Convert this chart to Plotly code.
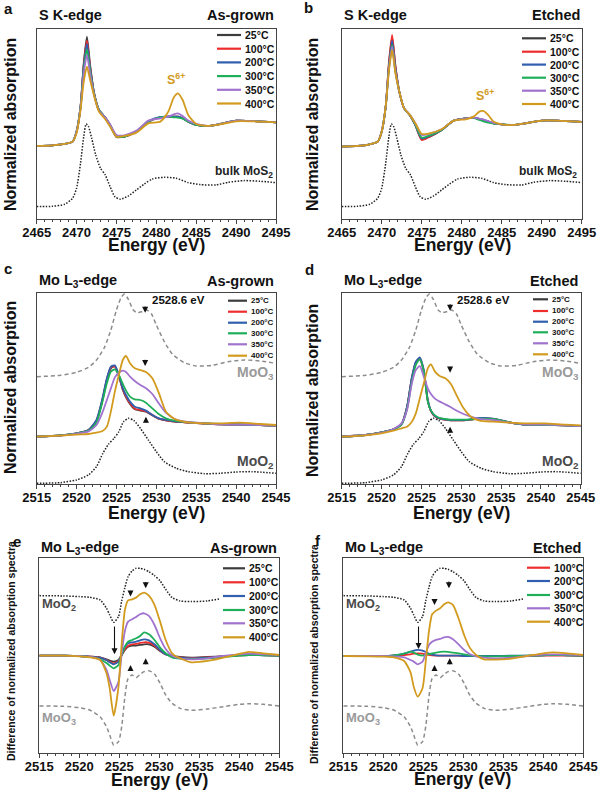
import plotly.graph_objects as go

FONT = "Liberation Sans, Arial, sans-serif"
TEMPS = ["25°C", "100°C", "200°C", "300°C", "350°C", "400°C"]
COLORS = ["#3d3d3d", "#ee2d2d", "#2f5fae", "#1faf58", "#a173cf", "#d29b1e"]

# ---- S K-edge (panels a, b) ----
S_EV = [2465, 2467, 2468.5, 2469.5, 2470, 2470.5, 2470.9, 2471.3, 2471.7, 2472.2, 2472.8, 2473.5,
        2474.2, 2475, 2476, 2477.5, 2479, 2480.5, 2481.5, 2482.2, 2482.7, 2483.3, 2484, 2485,
        2486.5, 2488, 2490, 2492, 2495]
A_25 = [2.20, 2.22, 2.26, 2.33, 2.63, 3.38, 4.68, 5.48, 4.63, 3.78, 3.28, 3.08, 2.83, 2.48, 2.48, 2.63,
        2.93, 3.06, 3.08, 3.08, 3.08, 3.03, 2.93, 2.83, 2.80, 2.86, 2.96, 2.95, 2.91]
A_100 = [2.20, 2.22, 2.26, 2.33, 2.63, 3.38, 4.63, 5.36, 4.58, 3.78, 3.28, 3.08, 2.83, 2.47, 2.48, 2.63,
         2.93, 3.06, 3.08, 3.08, 3.08, 3.03, 2.93, 2.83, 2.80, 2.86, 2.96, 2.95, 2.91]
A_200 = [2.20, 2.22, 2.26, 2.33, 2.63, 3.38, 4.58, 5.26, 4.53, 3.78, 3.28, 3.08, 2.83, 2.48, 2.48, 2.63,
         2.94, 3.07, 3.08, 3.08, 3.08, 3.03, 2.93, 2.83, 2.80, 2.86, 2.96, 2.95, 2.91]
A_300 = [2.20, 2.22, 2.26, 2.33, 2.63, 3.36, 4.48, 5.10, 4.46, 3.76, 3.28, 3.08, 2.83, 2.48, 2.48, 2.63,
         2.93, 3.06, 3.08, 3.06, 3.05, 3.02, 2.93, 2.83, 2.80, 2.86, 2.96, 2.95, 2.91]
A_350 = [2.20, 2.22, 2.26, 2.33, 2.63, 3.33, 4.38, 4.93, 4.36, 3.73, 3.26, 3.08, 2.85, 2.53, 2.52, 2.66,
         2.96, 3.03, 3.08, 3.15, 3.18, 3.10, 2.96, 2.86, 2.80, 2.86, 2.96, 2.95, 2.91]
A_400 = [2.20, 2.22, 2.26, 2.33, 2.58, 3.28, 4.13, 4.58, 4.18, 3.70, 3.23, 3.03, 2.78, 2.48, 2.50, 2.60,
         2.88, 2.93, 3.23, 3.66, 3.78, 3.58, 3.13, 2.86, 2.80, 2.85, 2.94, 2.94, 2.91]

B_25 = [2.18, 2.20, 2.25, 2.33, 2.63, 3.38, 4.65, 5.46, 4.60, 3.83, 3.33, 3.13, 2.83, 2.40, 2.48, 2.68,
        2.96, 3.03, 3.05, 3.01, 2.98, 2.93, 2.88, 2.85, 2.83, 2.88, 2.96, 2.96, 2.92]
B_100 = [2.18, 2.20, 2.25, 2.33, 2.63, 3.38, 4.70, 5.53, 4.65, 3.83, 3.33, 3.13, 2.83, 2.38, 2.48, 2.68,
         2.96, 3.03, 3.05, 3.01, 2.98, 2.93, 2.88, 2.85, 2.83, 2.88, 2.96, 2.96, 2.92]
B_200 = [2.18, 2.20, 2.25, 2.33, 2.63, 3.38, 4.60, 5.36, 4.55, 3.83, 3.33, 3.13, 2.83, 2.42, 2.50, 2.68,
         2.96, 3.03, 3.05, 3.01, 2.98, 2.93, 2.88, 2.85, 2.83, 2.88, 2.96, 2.96, 2.92]
B_300 = [2.18, 2.20, 2.25, 2.33, 2.63, 3.38, 4.52, 5.23, 4.48, 3.83, 3.33, 3.13, 2.84, 2.45, 2.52, 2.68,
         2.96, 3.03, 3.04, 2.98, 2.94, 2.90, 2.87, 2.85, 2.83, 2.88, 2.96, 2.96, 2.92]
B_350 = [2.18, 2.20, 2.25, 2.33, 2.63, 3.38, 4.50, 5.18, 4.45, 3.83, 3.33, 3.14, 2.88, 2.53, 2.57, 2.70,
         2.96, 3.03, 3.05, 3.02, 3.00, 2.95, 2.89, 2.85, 2.83, 2.88, 2.96, 2.96, 2.92]
B_400 = [2.18, 2.20, 2.25, 2.33, 2.63, 3.38, 4.45, 5.08, 4.40, 3.83, 3.33, 3.14, 2.88, 2.56, 2.58, 2.70,
         2.96, 3.00, 3.08, 3.23, 3.25, 3.13, 2.93, 2.85, 2.83, 2.88, 2.96, 2.96, 2.92]

MOS2_EV = [2465, 2467, 2468.5, 2469.5, 2470, 2470.5, 2470.9, 2471.2, 2471.5, 2471.9, 2472.4, 2473,
           2473.6, 2474.2, 2474.8, 2475.5, 2476.5, 2477.5, 2478.5, 2479.5, 2481, 2482.5, 2484,
           2485.5, 2487.5, 2489, 2491, 2493, 2495]
MOS2 = [0.38, 0.39, 0.45, 0.63, 0.93, 1.68, 2.48, 2.86, 2.78, 2.43, 1.93, 1.53, 1.33, 0.98, 0.68, 0.60,
        0.70, 0.88, 1.06, 1.21, 1.26, 1.23, 1.10, 1.04, 1.03, 1.11, 1.16, 1.14, 1.10]

# ---- Mo L3-edge (panels c, d) ----
L_EV = [2515, 2518, 2520, 2521.5, 2522.5, 2523.2, 2523.8, 2524.3, 2524.8, 2525.3, 2525.8, 2526.2,
        2526.7, 2527.3, 2528, 2528.7, 2529.5, 2530.3, 2531.2, 2532.3, 2534, 2536, 2538, 2540.5,
        2543, 2545]
C_25 = [1.42, 1.46, 1.52, 1.62, 1.90, 2.47, 3.12, 3.47, 3.54, 3.24, 2.82, 2.60, 2.40, 2.24, 2.20, 2.17,
        2.06, 1.96, 1.91, 1.87, 1.84, 1.81, 1.79, 1.78, 1.77, 1.75]
C_100 = [1.42, 1.46, 1.52, 1.62, 1.91, 2.49, 3.14, 3.50, 3.52, 3.25, 2.84, 2.62, 2.42, 2.26, 2.22, 2.18,
         2.07, 1.96, 1.91, 1.87, 1.84, 1.81, 1.79, 1.78, 1.77, 1.75]
C_200 = [1.42, 1.46, 1.52, 1.62, 1.92, 2.52, 3.17, 3.52, 3.56, 3.27, 2.87, 2.67, 2.47, 2.32, 2.27, 2.20,
         2.07, 1.97, 1.92, 1.88, 1.85, 1.82, 1.80, 1.79, 1.77, 1.75]
C_300 = [1.42, 1.46, 1.52, 1.60, 1.84, 2.42, 3.02, 3.37, 3.44, 3.27, 3.00, 2.80, 2.62, 2.54, 2.52, 2.44,
         2.27, 2.10, 1.97, 1.90, 1.85, 1.82, 1.79, 1.78, 1.77, 1.75]
C_350 = [1.42, 1.45, 1.51, 1.58, 1.77, 2.12, 2.52, 2.87, 3.20, 3.34, 3.40, 3.36, 3.22, 3.09, 2.97, 2.87,
         2.70, 2.42, 2.14, 1.95, 1.86, 1.82, 1.79, 1.78, 1.77, 1.75]
C_400 = [1.42, 1.45, 1.48, 1.50, 1.54, 1.58, 1.72, 2.17, 2.77, 3.27, 3.72, 3.84, 3.62, 3.47, 3.42, 3.36,
         3.17, 2.74, 2.17, 1.95, 1.85, 1.82, 1.82, 1.84, 1.80, 1.77]

D_25 = [1.42, 1.47, 1.55, 1.64, 1.79, 2.30, 3.17, 3.63, 3.75, 3.38, 2.50, 2.19, 2.03, 1.96, 1.93, 1.91,
        1.91, 1.91, 1.93, 1.96, 1.95, 1.85, 1.78, 1.77, 1.76, 1.74]
D_100 = [1.42, 1.47, 1.55, 1.64, 1.79, 2.31, 3.18, 3.65, 3.77, 3.40, 2.51, 2.19, 2.03, 1.96, 1.93, 1.91,
         1.91, 1.91, 1.93, 1.97, 1.95, 1.85, 1.78, 1.77, 1.76, 1.74]
D_200 = [1.42, 1.47, 1.55, 1.64, 1.79, 2.32, 3.20, 3.67, 3.80, 3.42, 2.52, 2.20, 2.04, 1.97, 1.94, 1.92,
         1.92, 1.92, 1.94, 1.98, 1.96, 1.85, 1.78, 1.77, 1.76, 1.74]
D_300 = [1.42, 1.47, 1.55, 1.64, 1.78, 2.25, 3.07, 3.57, 3.74, 3.37, 2.47, 2.20, 2.06, 1.98, 1.95, 1.93,
         1.93, 1.93, 1.94, 1.96, 1.95, 1.85, 1.78, 1.77, 1.76, 1.74]
D_350 = [1.42, 1.47, 1.54, 1.65, 1.82, 2.22, 3.02, 3.42, 3.54, 3.22, 2.87, 2.70, 2.56, 2.47, 2.39, 2.30,
         2.19, 2.10, 2.02, 1.95, 1.92, 1.84, 1.79, 1.78, 1.76, 1.74]
D_400 = [1.42, 1.46, 1.52, 1.60, 1.67, 1.72, 1.87, 2.12, 2.57, 3.02, 3.47, 3.59, 3.37, 3.24, 3.17, 3.00,
         2.62, 2.27, 2.02, 1.90, 1.87, 1.84, 1.82, 1.82, 1.78, 1.76]

MOO3_EV = [2515, 2518, 2520, 2521.5, 2522.5, 2523.5, 2524.3, 2525, 2525.6, 2526, 2526.5, 2527.1, 2527.6,
           2528.2, 2528.8, 2529.4, 2530, 2531, 2532, 2533.5, 2535, 2537, 2539, 2541, 2543, 2545]
MOO3 = [3.22, 3.26, 3.35, 3.50, 3.72, 4.10, 4.62, 5.22, 5.60, 5.70, 5.54, 5.22, 5.14, 5.17, 5.22, 5.10,
        4.77, 4.27, 3.90, 3.64, 3.54, 3.56, 3.67, 3.72, 3.69, 3.62]
MOO2_EV = [2515, 2518, 2520, 2521.5, 2522.5, 2523.3, 2524, 2524.7, 2525.3, 2525.9, 2526.5, 2527.2, 2528,
           2529, 2530, 2531, 2532.5, 2534, 2536, 2538, 2540, 2542, 2545]
MOO2 = [0.02, 0.04, 0.12, 0.27, 0.52, 0.92, 1.19, 1.37, 1.57, 1.87, 1.97, 1.90, 1.67, 1.32, 0.97, 0.67,
        0.47, 0.37, 0.31, 0.32, 0.36, 0.37, 0.32]

# ---- difference spectra (panels e, f) ----
DIF_EV = [2515, 2518, 2520, 2521.3, 2522.6, 2523.4, 2523.8, 2524.3, 2524.9, 2525.3, 2525.7, 2526.1,
          2526.6, 2527.1, 2527.6, 2528.1, 2528.7, 2529.4, 2530.1, 2530.8, 2531.6, 2532.6, 2534, 2536,
          2538, 2540, 2541.2, 2543, 2545]
E_25 = [2.93, 2.93, 2.92, 2.90, 2.88, 2.82, 2.78, 2.75, 2.80, 2.95, 3.10, 3.20, 3.23, 3.23, 3.25, 3.27,
        3.27, 3.20, 3.07, 2.97, 2.92, 2.89, 2.87, 2.89, 2.91, 2.94, 2.95, 2.94, 2.93]
E_100 = [2.93, 2.93, 2.92, 2.90, 2.87, 2.80, 2.75, 2.70, 2.77, 2.95, 3.13, 3.23, 3.27, 3.28, 3.31, 3.33,
         3.32, 3.23, 3.08, 2.97, 2.91, 2.88, 2.86, 2.88, 2.91, 2.94, 2.96, 2.95, 2.93]
E_200 = [2.93, 2.93, 2.92, 2.90, 2.87, 2.79, 2.73, 2.67, 2.75, 2.97, 3.20, 3.30, 3.33, 3.35, 3.39, 3.42,
         3.39, 3.27, 3.10, 2.97, 2.91, 2.87, 2.85, 2.87, 2.91, 2.95, 2.96, 2.95, 2.93]
E_300 = [2.93, 2.93, 2.92, 2.89, 2.82, 2.71, 2.63, 2.55, 2.65, 2.95, 3.20, 3.35, 3.40, 3.45, 3.52, 3.63,
         3.57, 3.40, 3.17, 3.00, 2.88, 2.84, 2.83, 2.85, 2.89, 2.93, 2.95, 2.94, 2.93]
E_350 = [2.93, 2.93, 2.92, 2.90, 2.80, 2.50, 2.20, 1.87, 2.15, 3.00, 3.67, 3.95, 4.02, 4.09, 4.17, 4.20,
         4.12, 3.85, 3.45, 3.13, 2.93, 2.85, 2.82, 2.85, 2.92, 2.97, 2.99, 2.97, 2.95]
E_400 = [2.93, 2.93, 2.91, 2.88, 2.80, 2.40, 1.95, 1.13, 2.00, 3.30, 4.30, 4.59, 4.62, 4.67, 4.77, 4.82,
         4.73, 4.45, 3.95, 3.40, 3.00, 2.85, 2.73, 2.77, 2.87, 2.98, 3.04, 3.00, 2.95]

F_100 = [2.92, 2.92, 2.92, 2.93, 2.95, 2.97, 2.99, 3.00, 2.99, 2.97, 2.95, 2.94, 2.93, 2.93, 2.93, 2.93,
         2.93, 2.93, 2.92, 2.92, 2.92, 2.92, 2.92, 2.92, 2.92, 2.93, 2.93, 2.93, 2.92]
F_200 = [2.92, 2.92, 2.92, 2.94, 2.99, 3.05, 3.08, 3.10, 3.08, 3.04, 2.99, 2.96, 2.94, 2.93, 2.93, 2.93,
         2.93, 2.93, 2.92, 2.92, 2.92, 2.92, 2.92, 2.93, 2.93, 2.94, 2.95, 2.94, 2.93]
F_300 = [2.92, 2.92, 2.92, 2.94, 2.99, 3.05, 3.02, 2.96, 2.93, 2.95, 2.98, 3.00, 3.02, 3.04, 3.05, 3.04,
         3.02, 3.00, 2.97, 2.94, 2.92, 2.91, 2.91, 2.92, 2.93, 2.94, 2.95, 2.94, 2.93]
F_350 = [2.92, 2.92, 2.92, 2.91, 2.88, 2.80, 2.75, 2.67, 2.75, 3.00, 3.25, 3.35, 3.40, 3.43, 3.48, 3.49,
         3.42, 3.27, 3.10, 2.98, 2.91, 2.87, 2.85, 2.87, 2.92, 2.96, 2.97, 2.96, 2.94]
F_400 = [2.92, 2.91, 2.90, 2.88, 2.77, 2.43, 2.00, 1.70, 1.95, 2.75, 3.65, 4.17, 4.28, 4.35, 4.47, 4.53,
         4.45, 4.05, 3.55, 3.17, 2.95, 2.82, 2.81, 2.84, 2.92, 3.00, 3.03, 3.00, 2.95]

DMOO2 = [4.73, 4.72, 4.70, 4.68, 4.60, 4.35, 4.15, 3.93, 4.10, 4.57, 4.97, 5.30, 5.47, 5.55, 5.55, 5.52,
         5.45, 5.33, 5.17, 4.92, 4.67, 4.57, 4.55, 4.57, 4.65, 4.72, 4.74, 4.73, 4.71]
DMOO3 = [1.42, 1.41, 1.37, 1.30, 1.10, 0.80, 0.55, 0.25, 0.35, 0.80, 1.70, 2.25, 2.35, 2.27, 2.37, 2.45,
         2.48, 2.38, 2.10, 1.75, 1.50, 1.35, 1.29, 1.33, 1.40, 1.47, 1.49, 1.47, 1.42]

W, H = 600, 793
DOT = "1.5px,1.5px"
DASH = "4px,3px"


def px(x, y):
    return x / W, 1 - y / H


panels = [
    # axis id, x domain, y domain, x range, y range, energy grid, series, names
    ("", [0.0611, 0.46], [0.7235, 0.9630], [2465, 2495], [0, 5.70], S_EV,
     [A_25, A_100, A_200, A_300, A_350, A_400], TEMPS),
    ("2", [0.5695, 0.9695], [0.7235, 0.9630], [2465, 2495], [0, 5.70], S_EV,
     [B_25, B_100, B_200, B_300, B_350, B_400], TEMPS),
    ("3", [0.0611, 0.46], [0.3897, 0.6309], [2515, 2545], [0, 5.74], L_EV,
     [C_25, C_100, C_200, C_300, C_350, C_400], TEMPS),
    ("4", [0.5695, 0.968], [0.3897, 0.6309], [2515, 2545], [0, 5.74], L_EV,
     [D_25, D_100, D_200, D_300, D_350, D_400], TEMPS),
    ("5", [0.0655, 0.4655], [0.05, 0.2960], [2515, 2545], [0, 5.85], DIF_EV,
     [E_25, E_100, E_200, E_300, E_350, E_400], TEMPS),
    ("6", [0.5722, 0.9722], [0.05, 0.2960], [2515, 2545], [0, 5.85], DIF_EV,
     [F_100, F_200, F_300, F_350, F_400], TEMPS[1:]),
]

fig = go.Figure()
layout = {}
for pid, xd, yd, xr, yr, ev, series, names in panels:
    xa, ya = "x" + pid, "y" + pid
    # reference spectra
    if xr[0] == 2465:
        refs = [(MOS2_EV, MOS2, DOT, "#222222")]
    elif ev is L_EV:
        refs = [(MOO3_EV, MOO3, DASH, "#8c8c8c"), (MOO2_EV, MOO2, DOT, "#222222")]
    else:
        refs = [(DIF_EV, DMOO3, DASH, "#8c8c8c"), (DIF_EV, DMOO2, DOT, "#222222")]
    for rx, ry, dash, col in refs:
        fig.add_trace(go.Scatter(x=rx, y=ry, mode="lines", xaxis=xa, yaxis=ya, showlegend=False,
                                 hoverinfo="skip",
                                 line=dict(color=col, width=1.5, dash=dash, shape="spline", smoothing=0.6)))
    for vals, name in zip(series, names):
        col = COLORS[TEMPS.index(name)]
        fig.add_trace(go.Scatter(x=ev, y=vals, mode="lines", name=name, xaxis=xa, yaxis=ya,
                                 showlegend=False, hoverinfo="skip",
                                 line=dict(color=col, width=1.8, shape="spline", smoothing=0.6)))
    layout["xaxis" + pid] = dict(domain=xd, range=xr, anchor=ya, showline=True, mirror=True,
                                 linecolor="#444", linewidth=1, ticks="outside", ticklen=4, tickwidth=1,
                                 tickcolor="#444", tick0=xr[0], dtick=5, showgrid=False, zeroline=False,
                                 automargin=False, ticklabelstandoff=-3,
                                 tickfont=dict(family=FONT, size=13, color="#111", weight="bold"),
                                 minor=dict(ticks="outside", ticklen=2, dtick=1, tickcolor="#444",
                                            showgrid=False))
    layout["yaxis" + pid] = dict(domain=yd, range=yr, anchor=xa, showline=True, mirror=True,
                                 linecolor="#444", linewidth=1, showticklabels=False, ticks="",
                                 showgrid=False, zeroline=False, automargin=False)

fig.update_layout(width=W, height=H, margin=dict(l=0, r=0, t=0, b=0, autoexpand=False),
                  plot_bgcolor="white", paper_bgcolor="white", showlegend=False, **layout)

ann = []
shapes = []


def text(x, y, s, size, anchor="left", color="#111", angle=0):
    xp, yp = px(x, y)
    ann.append(dict(x=xp, y=yp, xref="paper", yref="paper", text=s, showarrow=False, xanchor=anchor,
                    yanchor="middle", textangle=angle,
                    font=dict(family=FONT, size=size, color=color, weight="bold")))


# panel letters and titles
for letter, lx, ly, title, tx, ty, right, rx in [
    ("a", 8, 9, "S K-edge", 37, 15, "As-grown", 276),
    ("b", 308, 8, "S K-edge", 342, 15, "Etched", 582),
    ("c", 8, 268, "Mo L<sub>3</sub>-edge", 37, 281, "As-grown", 276),
    ("d", 309, 269, "Mo L<sub>3</sub>-edge", 342, 281, "Etched", 580),
    ("e", 17, 541, "Mo L<sub>3</sub>-edge", 39, 548, "As-grown", 279),
    ("f", 318, 540, "Mo L<sub>3</sub>-edge", 343, 548, "Etched", 583),
]:
    text(lx, ly, letter, 15, "center")
    text(tx, ty, title, 14.5)
    text(rx, ty, right, 14.5, "right")

# axis titles
for cx, cy in [(156, 245), (462, 245), (156, 513), (461, 513), (159, 780), (463, 779)]:
    text(cx, cy, "Energy (eV)", 17.5, "center")
for cx, cy in [(10, 125), (312, 125), (10, 388), (312, 391)]:
    text(cx, cy, "Normalized absorption", 16, "center", angle=-90)
for cx, cy in [(11, 651), (314, 654)]:
    text(cx, cy, "Difference of normalized absorption spectra", 10.5, "center", angle=-90)

# legends (white box behind, covering the curves as in the original)
for x0, x1, tx, rows, fs, names, box in [
    (217, 241, 243, [35, 48.7, 62.4, 76.1, 89.8, 103.5], 10.5, TEMPS, None),
    (522, 546, 548, [38.3, 51.7, 64.6, 77.7, 90.7, 104], 10.5, TEMPS, None),
    (228, 247, 249, [300.7, 311.7, 322.7, 333.3, 344.3, 355.7], 8, TEMPS, None),
    (533, 548, 550, [299.3, 311, 321.7, 332.3, 343.3, 354.3], 8, TEMPS, None),
    (223, 245, 247, [568.3, 582.3, 596, 610, 623.3, 637.3], 10.5, TEMPS, (219, 561, 278, 645)),
    (527, 550, 552, [567.7, 581, 595, 608.3, 621.7], 10.5, TEMPS[1:], (523, 560, 582, 629)),
]:
    if box:
        b0x, b0y = px(box[0], box[3])
        b1x, b1y = px(box[2], box[1])
        shapes.append(dict(type="rect", xref="paper", yref="paper", x0=b0x, x1=b1x, y0=b0y, y1=b1y,
                           fillcolor="white", line=dict(width=0), layer="above"))
    for ry, name in zip(rows, names):
        a0, b0 = px(x0, ry)
        a1, _ = px(x1, ry)
        shapes.append(dict(type="line", xref="paper", yref="paper", x0=a0, x1=a1, y0=b0, y1=b0,
                           line=dict(color=COLORS[TEMPS.index(name)], width=2.2)))
        text(tx, ry, name, fs)


def lab(ax, x, y, s, size, anchor, color):
    ann.append(dict(x=x, y=y, xref="x" + ax, yref="y" + ax, text=s, showarrow=False, xanchor=anchor,
                    yanchor="middle", font=dict(family=FONT, size=size, color=color, weight="bold")))


def arrow(ax, x, tip, tail):
    ann.append(dict(x=x, y=tip, ax=x, ay=tail, xref="x" + ax, yref="y" + ax, axref="x" + ax,
                    ayref="y" + ax, text="", showarrow=True, arrowhead=2, arrowsize=1.1,
                    arrowwidth=1.1, arrowcolor="#111"))


lab("", 2482.5, 4.22, "S<sup>6+</sup>", 12.5, "center", "#d29b1e")
lab("2", 2482.9, 3.72, "S<sup>6+</sup>", 12.5, "center", "#d29b1e")
lab("", 2494.9, 1.43, "bulk MoS<sub>2</sub>", 12, "right", "#222")
lab("2", 2494.6, 1.43, "bulk MoS<sub>2</sub>", 12, "right", "#222")

for ax in ["3", "4"]:
    lab(ax, 2545, 3.32, "MoO<sub>3</sub>", 14, "right", "#9a9a9a")
    lab(ax, 2545, 0.67, "MoO<sub>2</sub>", 14, "right", "#4a4a4a")
    lab(ax, 2529.2, 5.52, "2528.6 eV", 11.5, "left", "#111")
arrow("3", 2528.6, 5.14, 5.37)
arrow("3", 2528.6, 3.54, 3.77)
arrow("3", 2528.7, 2.02, 1.80)
arrow("4", 2528.6, 5.20, 5.44)
arrow("4", 2528.6, 3.34, 3.56)
arrow("4", 2528.6, 1.72, 1.50)

for ax in ["5", "6"]:
    lab(ax, 2515.1, 4.45, "MoO<sub>2</sub>", 13, "left", "#4a4a4a")
    lab(ax, 2515.1, 1.05, "MoO<sub>3</sub>", 13, "left", "#9a9a9a")
    arrow(ax, 2526.4, 2.65, 2.43)
    arrow(ax, 2528.3, 2.85, 2.63)
arrow("5", 2524.4, 2.97, 3.85)
arrow("5", 2526.4, 4.70, 4.92)
arrow("5", 2528.3, 4.95, 5.18)
arrow("6", 2524.4, 3.13, 3.85)
arrow("6", 2526.4, 4.45, 4.67)
arrow("6", 2528.2, 4.95, 5.20)

fig.update_layout(annotations=ann, shapes=shapes)
# the page's default body margin would shift the 600x793 figure and add scrollbars
fig.write_html("out.html", config={"displayModeBar": False},
               post_script="document.body.style.margin='0';")
